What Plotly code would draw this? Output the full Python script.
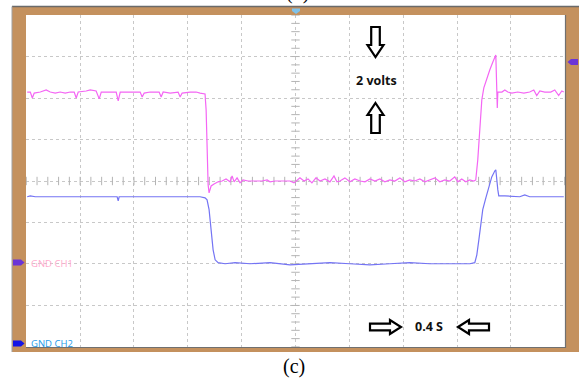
import numpy as np
import plotly.graph_objects as go

# ---------------- data ----------------
SEC_PER_DIV = 0.4      # horizontal scale
VOLT_PER_DIV = 2.0     # vertical scale
CH1_GND = -3.9         # screen volts of the CH1 ground marker
CH2_GND = -7.8         # screen volts of the CH2 ground marker

ch1_t = [0.007, 0.030, 0.045, 0.059, 0.104, 0.148, 0.178, 0.215, 0.252, 0.289,
         0.327, 0.356, 0.371, 0.386, 0.445, 0.475, 0.519, 0.542, 0.557, 0.623,
         0.668, 0.683, 0.698, 0.772, 0.846, 0.861, 0.876, 0.920, 0.987, 1.002,
         1.017, 1.069, 1.128, 1.143, 1.158, 1.217, 1.262, 1.291, 1.328, 1.336,
         1.343, 1.351, 1.358, 1.373, 1.395, 1.425, 1.455, 1.484, 1.514, 1.529,
         1.544, 1.566, 1.588, 1.610, 1.647, 1.700, 1.751, 1.789, 1.811, 1.848,
         1.907, 1.959, 1.989, 2.004, 2.033, 2.063, 2.093, 2.122, 2.152, 2.182,
         2.219, 2.256, 2.286, 2.308, 2.330, 2.367, 2.404, 2.441, 2.479, 2.516,
         2.553, 2.590, 2.627, 2.664, 2.701, 2.738, 2.775, 2.812, 2.849, 2.886,
         2.924, 2.961, 2.998, 3.035, 3.072, 3.109, 3.146, 3.183, 3.206, 3.235,
         3.265, 3.295, 3.324, 3.339, 3.354, 3.369, 3.384, 3.399, 3.421, 3.443,
         3.466, 3.481, 3.488, 3.496, 3.499, 3.503, 3.533, 3.555, 3.577, 3.607,
         3.651, 3.696, 3.740, 3.770, 3.792, 3.815, 3.852, 3.896, 3.926, 3.955,
         3.978, 3.993]
ch1_v = [8.19, 8.19, 7.90, 8.14, 8.19, 8.29, 8.19, 8.14, 8.19, 8.14,
         8.19, 8.19, 7.90, 8.19, 8.24, 8.29, 8.24, 7.86, 8.19, 8.19,
         8.19, 7.76, 8.19, 8.19, 8.19, 7.95, 8.14, 8.19, 8.19, 7.95,
         8.19, 8.14, 8.19, 7.95, 8.14, 8.19, 8.19, 8.14, 8.10, 7.33,
         4.92, 3.71, 3.33, 3.66, 3.76, 3.86, 3.90, 4.00, 3.86, 4.14,
         3.86, 4.05, 3.81, 3.95, 3.90, 3.90, 3.90, 3.95, 3.86, 3.90,
         3.90, 3.90, 3.81, 3.90, 4.05, 3.90, 4.00, 3.81, 4.05, 3.90,
         4.00, 3.86, 4.14, 3.86, 3.90, 4.05, 3.86, 4.00, 3.90, 3.86,
         4.00, 3.90, 4.00, 3.86, 3.95, 3.90, 4.05, 3.86, 3.95, 3.90,
         4.00, 3.86, 3.95, 4.05, 3.86, 3.95, 3.90, 4.10, 3.86, 4.00,
         3.86, 3.95, 3.90, 3.95, 4.92, 6.60, 7.81, 8.39, 8.87, 9.25,
         9.64, 9.93, 9.98, 8.14, 7.42, 8.19, 8.19, 8.29, 8.19, 8.14,
         8.19, 8.14, 8.19, 8.29, 8.02, 8.24, 8.19, 8.19, 8.29, 8.02,
         8.24, 8.19]

ch2_t = [0.007, 0.030, 0.067, 0.252, 0.475, 0.623, 0.675, 0.683, 0.690, 0.920,
         1.143, 1.291, 1.328, 1.343, 1.358, 1.373, 1.388, 1.403, 1.425, 1.477,
         1.551, 1.662, 1.811, 1.959, 2.108, 2.256, 2.404, 2.553, 2.701, 2.849,
         2.998, 3.146, 3.295, 3.332, 3.347, 3.362, 3.377, 3.391, 3.414, 3.436,
         3.458, 3.481, 3.488, 3.503, 3.510, 3.555, 3.666, 3.703, 3.740, 3.852,
         3.993]
ch2_v = [7.04, 7.08, 7.04, 7.04, 7.04, 7.04, 7.04, 6.84, 7.04, 7.04,
         7.04, 7.04, 6.99, 6.89, 6.42, 5.45, 4.48, 4.00, 3.86, 3.81,
         3.86, 3.81, 3.86, 3.76, 3.81, 3.86, 3.81, 3.76, 3.81, 3.86,
         3.81, 3.81, 3.81, 3.86, 4.24, 4.96, 5.83, 6.42, 6.99, 7.57,
         8.00, 8.29, 8.34, 7.37, 7.08, 7.08, 7.04, 7.13, 7.04, 7.04,
         7.04]

annot_scale_v = "2 volts"
annot_scale_t = "0.4 S"
caption = "(c)"

# ---------------- geometry helpers (page pixels -> paper) ----------------
W, H = 579, 381
L, R, T, B = 26, 565, 15, 347


def px(x):
    return (x - L) / (R - L)


def py(y):
    return (B - y) / (B - T)


def poly(pts):
    s = "M " + " L ".join(f"{px(x):.5f},{py(y):.5f}" for x, y in pts) + " Z"
    return s


fig = go.Figure()

x_range = [0, 10 * SEC_PER_DIV]
y_range = [-4 * VOLT_PER_DIV, 4 * VOLT_PER_DIV]

# centre graticule ticks
xt = np.arange(0, 10 * SEC_PER_DIV + 1e-9, SEC_PER_DIV / 5)
yt = np.arange(-4 * VOLT_PER_DIV, 4 * VOLT_PER_DIV + 1e-9, VOLT_PER_DIV / 5)
fig.add_trace(go.Scatter(x=xt, y=[0] * len(xt), mode="markers",
                         marker=dict(symbol="line-ns", size=6,
                                     line=dict(width=1, color="#b4b4b4")),
                         hoverinfo="skip", showlegend=False))
fig.add_trace(go.Scatter(x=[5 * SEC_PER_DIV] * len(yt), y=yt, mode="markers",
                         marker=dict(symbol="line-ew", size=6,
                                     line=dict(width=1, color="#b4b4b4")),
                         hoverinfo="skip", showlegend=False))

fig.add_trace(go.Scatter(x=ch2_t, y=[CH2_GND + v for v in ch2_v], mode="lines",
                         line=dict(color="#7474f4", width=1.2),
                         showlegend=False, hoverinfo="skip"))
fig.add_trace(go.Scatter(x=ch1_t, y=[CH1_GND + v for v in ch1_v], mode="lines",
                         line=dict(color="#f466f4", width=1.2),
                         showlegend=False, hoverinfo="skip"))

brown = "#c4915e"
shapes = [
    dict(type="rect", xref="paper", yref="paper", x0=px(12), x1=px(579),
         y0=py(352), y1=py(7), fillcolor=brown, line=dict(width=0), layer="below"),
    dict(type="rect", xref="paper", yref="paper", x0=0, x1=1, y0=0, y1=1,
         fillcolor="white", line=dict(width=0), layer="below"),
    # frame edges
    dict(type="line", xref="paper", yref="paper", x0=px(12), x1=px(579),
         y0=py(6.5), y1=py(6.5), line=dict(color="#6a6a6a", width=1.5)),
    dict(type="line", xref="paper", yref="paper", x0=px(12), x1=px(12),
         y0=py(6.5), y1=py(352), line=dict(color="#a0a0a0", width=1)),
    dict(type="line", xref="paper", yref="paper", x0=px(565.5), x1=px(565.5),
         y0=py(15), y1=py(348), line=dict(color="#707070", width=1.2)),
    dict(type="line", xref="paper", yref="paper", x0=px(26), x1=px(566),
         y0=py(347.5), y1=py(347.5), line=dict(color="#707070", width=1.2)),
]

# annotation arrows (hollow block arrows)
def arrow_shape(pts):
    return dict(type="path", xref="paper", yref="paper", path=poly(pts),
                fillcolor="white", line=dict(color="black", width=2.2))

cx = 375.5
shapes.append(arrow_shape([(cx - 4.3, 27), (cx + 4.3, 27), (cx + 4.3, 45), (cx + 8, 45),
                           (cx, 57), (cx - 8, 45), (cx - 4.3, 45)]))
shapes.append(arrow_shape([(cx, 103), (cx + 8, 115), (cx + 4.3, 115), (cx + 4.3, 133),
                           (cx - 4.3, 133), (cx - 4.3, 115), (cx - 8, 115)]))
cy = 327
shapes.append(arrow_shape([(370, cy - 3.4), (390, cy - 3.4), (390, cy - 7), (401, cy),
                           (390, cy + 7), (390, cy + 3.4), (370, cy + 3.4)]))
shapes.append(arrow_shape([(458, cy), (469, cy - 7), (469, cy - 3.4), (489, cy - 3.4),
                           (489, cy + 3.4), (469, cy + 3.4), (469, cy + 7)]))

# channel markers on the frame
def marker(pts, color):
    return dict(type="path", xref="paper", yref="paper", path=poly(pts),
                fillcolor=color, line=dict(width=0))

shapes.append(marker([(13, 259.5), (21, 259.5), (24.5, 262.5), (21, 265.5), (13, 265.5)], "#6b35d8"))
shapes.append(marker([(13, 340.5), (21, 340.5), (24.5, 343.5), (21, 346.5), (13, 346.5)], "#1414e6"))
shapes.append(marker([(578, 59), (571, 59), (567.5, 62), (571, 65), (578, 65)], "#6b35d8"))
shapes.append(marker([(292, 8.5), (300, 8.5), (300, 11), (296, 14), (292, 11)], "#7fc2ea"))

label_font = "Open Sans, Lato, sans-serif"
annotations = [
    dict(text="<b>" + annot_scale_v + "</b>", x=px(376), y=py(80), xref="paper", yref="paper",
         showarrow=False, font=dict(family=label_font, size=12.5, color="#111111"),
         xanchor="center", yanchor="middle"),
    dict(text="<b>" + annot_scale_t + "</b>", x=px(429), y=py(326.5), xref="paper", yref="paper",
         showarrow=False, font=dict(family=label_font, size=12.5, color="#111111"),
         xanchor="center", yanchor="middle"),
    dict(text="GND CH1", x=px(31), y=py(263), xref="paper", yref="paper", showarrow=False,
         font=dict(family="Open Sans, sans-serif", size=9.5, color="#ffaacd"),
         xanchor="left", yanchor="middle", xshift=-2),
    dict(text="GND CH2", x=px(31), y=py(343), xref="paper", yref="paper", showarrow=False,
         font=dict(family="Open Sans, sans-serif", size=9.5, color="#1e9be8"),
         xanchor="left", yanchor="middle", xshift=-2),
    dict(text=caption, x=px(294), y=py(366), xref="paper", yref="paper", showarrow=False,
         font=dict(family="Liberation Serif, Times New Roman, serif", size=20, color="black"),
         xanchor="center", yanchor="middle"),
    dict(text="(b)", x=px(297), y=py(-8), xref="paper", yref="paper", showarrow=False,
         font=dict(family="Liberation Serif, Times New Roman, serif", size=20, color="black"),
         xanchor="center", yanchor="middle"),
]

fig.update_layout(
    width=W, height=H,
    margin=dict(l=L, r=W - R, t=T, b=H - B, pad=0),
    paper_bgcolor="white", plot_bgcolor="rgba(0,0,0,0)",
    shapes=shapes, annotations=annotations,
    xaxis=dict(range=[x_range[0] - 0.002, x_range[1] + 0.002], dtick=SEC_PER_DIV, tick0=0,
               showgrid=True, gridcolor="#c8c8c8", griddash="dot", gridwidth=1,
               zeroline=False, showticklabels=False, ticks="", showline=False, fixedrange=True),
    yaxis=dict(range=[y_range[0] - 0.004, y_range[1] + 0.004], dtick=VOLT_PER_DIV, tick0=0,
               showgrid=True, gridcolor="#c8c8c8", griddash="dot", gridwidth=1,
               zeroline=False, showticklabels=False, ticks="", showline=False, fixedrange=True),
)

fig.write_html("out.html", config={"displayModeBar": False},
               post_script="document.body.style.margin='0';document.body.style.overflow='hidden';")
